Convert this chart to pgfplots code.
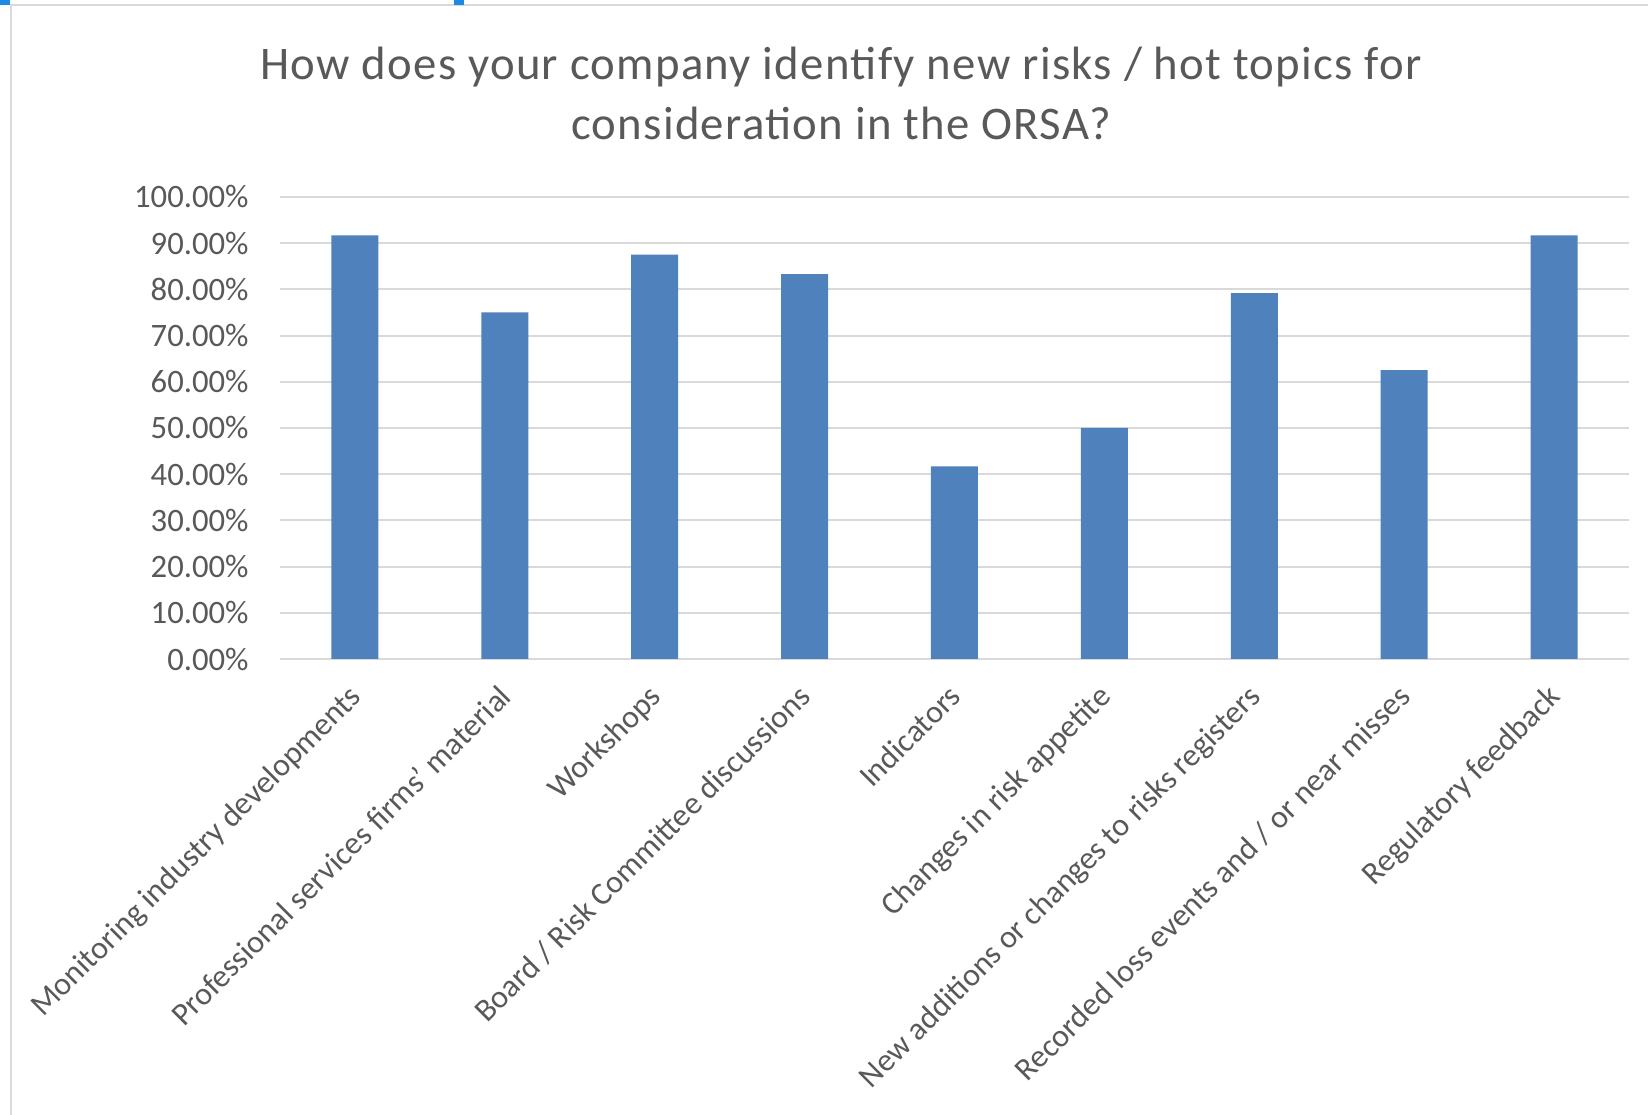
\documentclass[border=0pt]{standalone}
\usepackage{fontspec}
\setmainfont{Carlito}
\newfontfamily\titlefont[LetterSpace=2.8]{Carlito}
\usepackage{pgfplots}
\pgfplotsset{compat=1.18}
\definecolor{barblue}{HTML}{4F81BD}
\definecolor{txtgray}{HTML}{595959}
\definecolor{gridgray}{HTML}{D9D9D9}
\definecolor{selblue}{HTML}{1E88E5}
\begin{document}
\begin{tikzpicture}
\useasboundingbox (0,0) rectangle (164.8mm,111.5mm);
\fill[white] (0,0) rectangle (164.8mm,111.5mm);
\draw[gridgray, line width=0.2mm] (1.1mm,0) -- (1.1mm,111.0mm) -- (164.8mm,111.0mm);
\fill[selblue] (45.4mm,111.5mm) rectangle (46.4mm,111.0mm);
\fill[selblue] (0,111.5mm) rectangle (1.0mm,111.0mm);
\node[anchor=base, text=txtgray, font=\titlefont\fontsize{13.3pt}{16pt}\selectfont] at (84.1mm,103.5mm) {How does your company identify new risks / hot topics for};
\node[anchor=base, text=txtgray, font=\titlefont\fontsize{13.3pt}{16pt}\selectfont] at (84.1mm,97.5mm) {consideration in the ORSA?};
\begin{axis}[
  at={(28mm,45.6mm)}, anchor=south west,
  scale only axis, width=134.9mm, height=46.2mm,
  xmin=-0.5, xmax=8.5, ymin=0, ymax=100,
  ybar, bar width=4.7mm,
  axis line style={draw=none},
  major tick length=0pt,
  ymajorgrids, grid style={gridgray, line width=0.2mm},
  ytick={0,10,...,100},
  yticklabel={\pgfmathprintnumber[fixed,fixed zerofill,precision=2]{\tick}\%},
  /pgf/number format/assume math mode=true,
  yticklabel style={text=txtgray, font=\fontsize{9.3pt}{11pt}\selectfont, xshift=-1.9mm},
  xtick={0,...,8},
  xticklabels={Monitoring industry developments, Professional services firms' material, Workshops, Board / Risk Committee discussions, Indicators, Changes in risk appetite, New additions or changes to risks registers, Recorded loss events and / or near misses, Regulatory feedback},
  xticklabel style={text=txtgray, font=\fontsize{9.1pt}{11pt}\selectfont, rotate=45, anchor=north east, xshift=-1.0mm, yshift=0.1mm},
]
\addplot[fill=barblue, draw=none] coordinates {(0,91.67) (1,75) (2,87.5) (3,83.33) (4,41.67) (5,50) (6,79.17) (7,62.5) (8,91.67)};
\end{axis}
\end{tikzpicture}
\end{document}
